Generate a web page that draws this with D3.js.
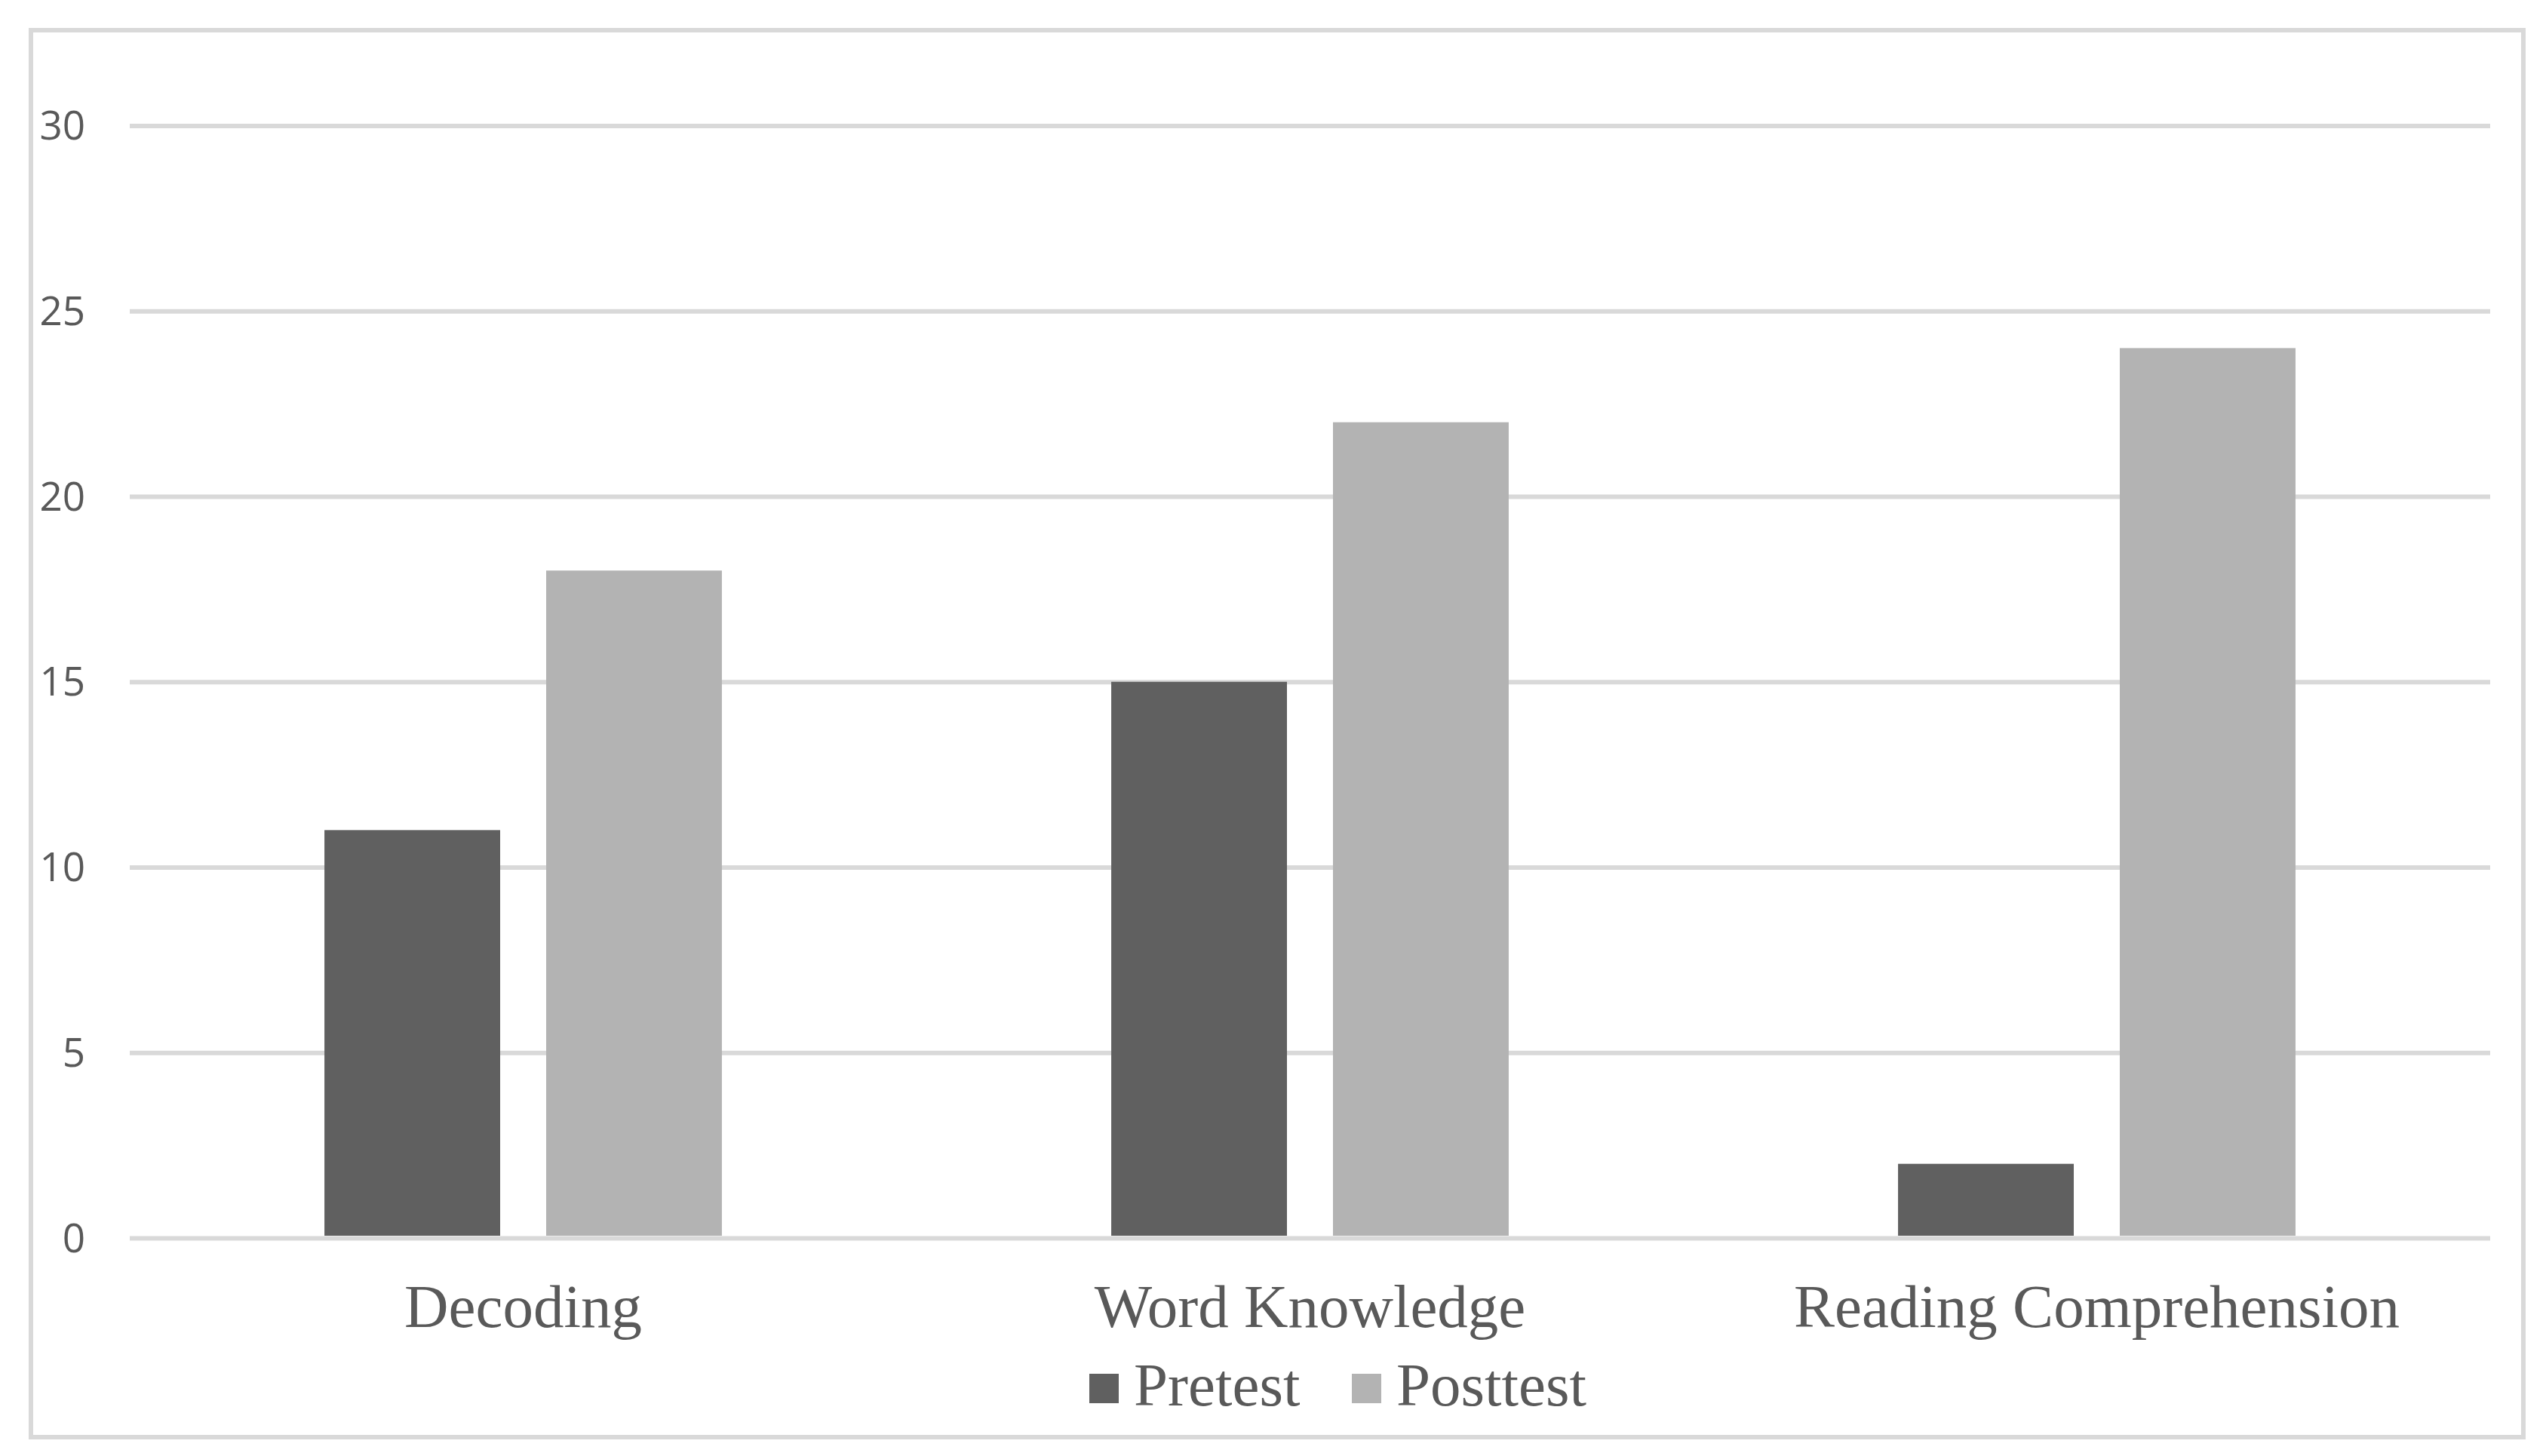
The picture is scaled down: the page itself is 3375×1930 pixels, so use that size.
<!DOCTYPE html>
<html>
<head>
<meta charset="utf-8">
<script src="https://cdn.jsdelivr.net/npm/d3@7"></script>
<style>
  html, body { margin: 0; padding: 0; background: #ffffff; }
  svg { display: block; }
</style>
</head>
<body>
<script>
// ---- data ----
const categories = ["Decoding", "Word Knowledge", "Reading Comprehension"];
const seriesNames = ["Pretest", "Posttest"];
const pretestValues = [11, 15, 2];
const posttestValues = [18, 22, 24];
const yTicks = [0, 5, 10, 15, 20, 25, 30];
const seriesColors = ["#606060", "#b3b3b3"];

const W = 3375, H = 1930;
const svg = d3.select("body").append("svg").attr("width", W).attr("height", H);

// outer border
svg.append("rect")
  .attr("x", 41).attr("y", 40).attr("width", 3345 - 41).attr("height", 1905 - 40)
  .attr("fill", "none").attr("stroke", "#d9d9d9").attr("stroke-width", 6);

const plotLeft = 172, plotRight = 3301;
const y = d3.scaleLinear().domain([0, 30]).range([1641, 166.5]);
const x0 = d3.scaleBand().domain(categories).range([plotLeft, plotRight]).padding(0);
const x1 = d3.scaleBand().domain(seriesNames).range([0, x0.bandwidth()])
  .paddingInner(0.2075).paddingOuter(0.878);

// gridlines
const yAxis = d3.axisLeft(y).tickValues(yTicks).tickSize(-(plotRight - plotLeft)).tickPadding(59).tickFormat(d3.format("d"));
const gy = svg.append("g").attr("transform", `translate(${plotLeft},0)`).call(yAxis);
gy.select(".domain").remove();
gy.selectAll(".tick line").attr("stroke", "#d9d9d9").attr("stroke-width", 6);
gy.selectAll(".tick text")
  .attr("fill", "#595959")
  .attr("font-family", "'Open Sans', sans-serif")
  .attr("font-size", 53)
  .attr("dy", "0.34em");

// bars
const rows = categories.map((c, i) => ({ cat: c, vals: [pretestValues[i], posttestValues[i]] }));
const groups = svg.append("g").selectAll("g").data(rows).join("g")
  .attr("transform", d => `translate(${x0(d.cat)},0)`);
groups.selectAll("rect").data(d => d.vals.map((v, j) => ({ s: seriesNames[j], v, j })))
  .join("rect")
  .attr("x", d => x1(d.s))
  .attr("width", x1.bandwidth())
  .attr("y", d => y(d.v))
  .attr("height", d => y(0) - y(d.v) - 3)
  .attr("fill", d => seriesColors[d.j]);

// category labels
const xAxis = d3.axisBottom(x0).tickSize(0).tickPadding(0);
const gx = svg.append("g").attr("transform", `translate(0,1759)`).call(xAxis);
gx.select(".domain").remove();
gx.selectAll(".tick text")
  .attr("y", 0).attr("dy", 0)
  .attr("fill", "#595959")
  .attr("font-family", "'Liberation Serif', 'Times New Roman', serif")
  .attr("font-size", 81);

// legend
const legendX = [1444, 1792];
const leg = svg.append("g").selectAll("g").data(seriesNames).join("g");
leg.append("rect")
  .attr("x", (d, i) => legendX[i]).attr("y", 1821)
  .attr("width", 39).attr("height", 39)
  .attr("fill", (d, i) => seriesColors[i]);
leg.append("text")
  .attr("x", (d, i) => legendX[i] + 59).attr("y", 1863)
  .attr("fill", "#595959")
  .attr("font-family", "'Liberation Serif', 'Times New Roman', serif")
  .attr("font-size", 81)
  .text(d => d);
</script>
</body>
</html>
